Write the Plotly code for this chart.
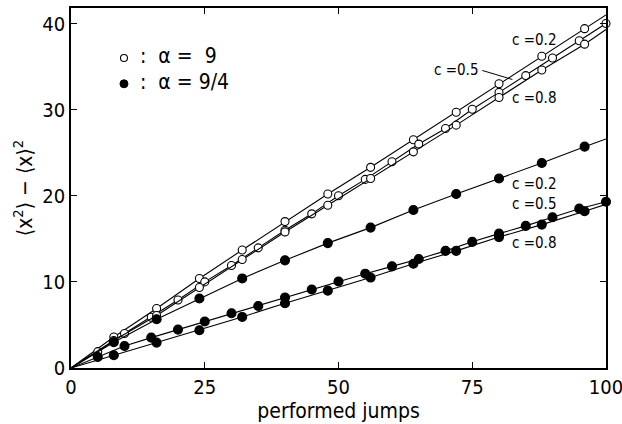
import plotly.graph_objects as go

# ---- data ----
# alpha = 9 (open circles)
open_c02_x = [8, 16, 24, 32, 40, 48, 56, 64, 72, 80, 88, 96]
open_c02_y = [3.6, 6.9, 10.4, 13.7, 17.0, 20.2, 23.3, 26.5, 29.7, 33.0, 36.2, 39.4]
open_c02_end = 41.0

open_c05_x = [5, 10, 15, 20, 25, 30, 35, 40, 45, 50, 55, 60, 65, 70, 75, 80, 85, 90, 95, 100]
open_c05_y = [1.9, 4.0, 5.9, 7.9, 10.0, 11.9, 13.95, 16.0, 17.9, 20.0, 21.9, 23.95, 26.0, 27.8, 30.05, 32.0, 33.95, 36.0, 38.0, 40.0]

open_c08_x = [8, 16, 24, 32, 40, 48, 56, 64, 72, 80, 88, 96]
open_c08_y = [3.2, 6.1, 9.35, 12.6, 15.8, 18.9, 22.0, 25.1, 28.2, 31.4, 34.6, 37.6]
open_c08_end = 39.3

# alpha = 9/4 (filled circles)
fill_c02_x = [8, 16, 24, 32, 40, 48, 56, 64, 72, 80, 88, 96]
fill_c02_y = [3.0, 5.66, 8.07, 10.4, 12.5, 14.5, 16.3, 18.35, 20.2, 22.0, 23.8, 25.7]
fill_c02_end = 26.6

fill_c05_x = [5, 10, 15, 20, 25, 30, 35, 40, 45, 50, 55, 60, 65, 70, 75, 80, 85, 90, 95, 100]
fill_c05_y = [1.28, 2.56, 3.53, 4.46, 5.4, 6.36, 7.2, 8.19, 9.12, 10.04, 10.95, 11.8, 12.65, 13.6, 14.65, 15.6, 16.5, 17.5, 18.5, 19.3]

fill_c08_x = [8, 16, 24, 32, 40, 48, 56, 64, 72, 80, 88, 96]
fill_c08_y = [1.48, 2.95, 4.38, 5.93, 7.52, 8.98, 10.5, 12.1, 13.6, 15.2, 16.65, 18.2]
fill_c08_end = 19.0

x_ticks = [0, 25, 50, 75, 100]
y_ticks = [0, 10, 20, 30, 40]

FONT = "'DejaVu Sans Condensed', 'Liberation Sans Narrow', 'DejaVu Sans', sans-serif"

fig = go.Figure()

def add_series(xs, ys, end, filled):
    lx = [0] + xs + ([100] if xs[-1] < 100 else [])
    ly = [0] + ys + ([end] if xs[-1] < 100 else [])
    fig.add_trace(go.Scatter(x=lx, y=ly, mode="lines",
                             line=dict(color="black", width=1.1),
                             showlegend=False, hoverinfo="skip"))
    fig.add_trace(go.Scatter(x=xs, y=ys, mode="markers",
                             marker=dict(symbol="circle", size=8 if not filled else 9,
                                         color="black" if filled else "white",
                                         line=dict(color="black", width=1.1)),
                             showlegend=False, cliponaxis=False))

add_series(open_c02_x, open_c02_y, open_c02_end, False)
add_series(open_c05_x, open_c05_y, None, False)
add_series(open_c08_x, open_c08_y, open_c08_end, False)
add_series(fill_c02_x, fill_c02_y, fill_c02_end, True)
add_series(fill_c05_x, fill_c05_y, None, True)
add_series(fill_c08_x, fill_c08_y, fill_c08_end, True)

# legend markers
fig.add_trace(go.Scatter(x=[9.9], y=[36.0], mode="markers",
                         marker=dict(size=7, color="white", line=dict(color="black", width=1.1)),
                         showlegend=False, hoverinfo="skip"))
fig.add_trace(go.Scatter(x=[9.9], y=[33.0], mode="markers",
                         marker=dict(size=8, color="black", line=dict(color="black", width=1)),
                         showlegend=False, hoverinfo="skip"))

annotations = [
    dict(x=12.6, y=36.2, text=":  α =  9", xanchor="left", font_size=21),
    dict(x=12.6, y=33.2, text=":  α = 9/4", xanchor="left", font_size=21),
    dict(x=82, y=38.1, text="c =0.2", xanchor="left", font_size=15),
    dict(x=82, y=31.4, text="c =0.8", xanchor="left", font_size=15),
    dict(x=82, y=21.4, text="c =0.2", xanchor="left", font_size=15),
    dict(x=82, y=19.1, text="c =0.5", xanchor="left", font_size=15),
    dict(x=82, y=14.5, text="c =0.8", xanchor="left", font_size=15),
    dict(x=76.4, y=34.6, text="c =0.5", xanchor="right", font_size=15),
]
anns = []
for a in annotations:
    fs = a.pop("font_size")
    anns.append(dict(xref="x", yref="y", showarrow=False, yanchor="middle",
                     font=dict(family=FONT, size=fs, color="black"), **a))
# pointer line for the c = 0.5 label
anns.append(dict(xref="x", yref="y", x=82.5, y=33.5, ax=76.6, ay=34.6,
                 axref="x", ayref="y", text="", showarrow=True,
                 arrowhead=0, arrowwidth=1, arrowcolor="black"))

fig.update_layout(
    width=622, height=424,
    margin=dict(l=71, r=16, t=8, b=56, autoexpand=False),
    paper_bgcolor="white", plot_bgcolor="white",
    font=dict(family=FONT, size=20, color="black"),
    annotations=anns,
    showlegend=False,
)
fig.update_xaxes(range=[0, 100], tickvals=x_ticks, ticktext=[str(v) for v in x_ticks],
                 ticks="inside", ticklen=6, tickwidth=1, tickcolor="black",
                 showline=True, linecolor="black", linewidth=1.5, mirror="ticks",
                 showgrid=False, zeroline=False, ticklabeloverflow="allow", automargin=False,
                 title=dict(text="performed jumps", font=dict(family=FONT, size=21), standoff=0),
                 tickfont=dict(family=FONT, size=20))
fig.update_yaxes(range=[0, 41.8], tickvals=y_ticks, ticktext=[str(v) for v in y_ticks],
                 ticks="inside", ticklen=6, tickwidth=1, tickcolor="black",
                 showline=True, linecolor="black", linewidth=1.5, mirror="ticks",
                 showgrid=False, zeroline=False, ticklabeloverflow="allow", automargin=False,
                 title=dict(text="⟨x<sup>2</sup>⟩ − ⟨x⟩<sup>2</sup>", font=dict(family=FONT, size=21), standoff=4),
                 tickfont=dict(family=FONT, size=20))

fig.write_html("out.html", config={"displayModeBar": False},
               post_script="document.body.style.margin='0';")
